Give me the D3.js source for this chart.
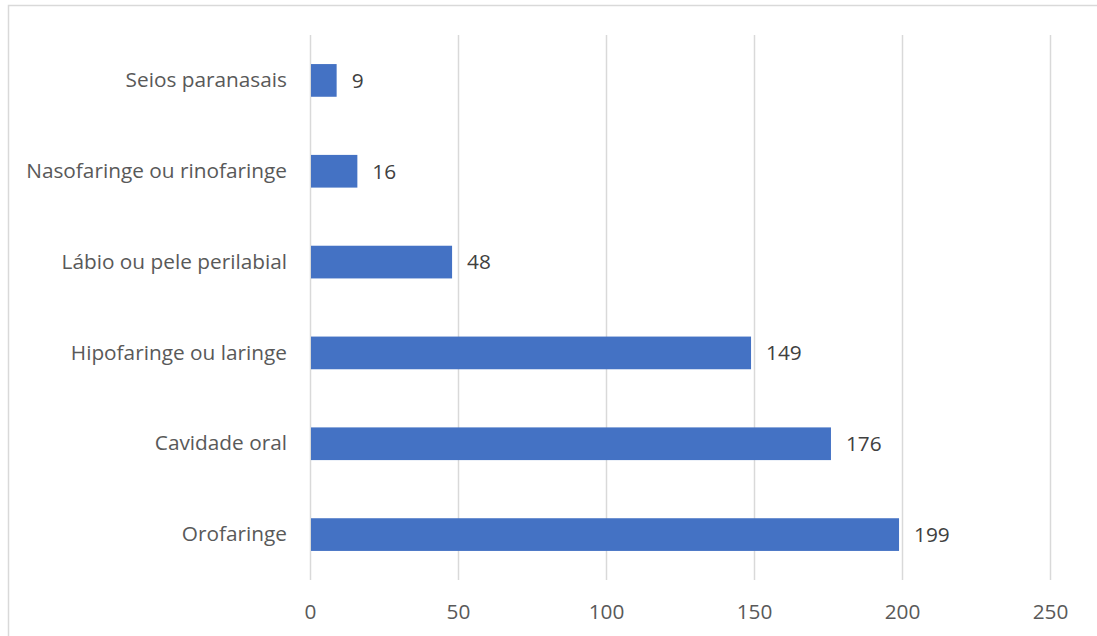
<!DOCTYPE html>
<html>
<head>
<meta charset="utf-8">
<script src="https://cdn.jsdelivr.net/npm/d3@7"></script>
<style>
  html, body { margin: 0; padding: 0; background: #fff; }
  svg { display: block; }
  text { font-family: "Open Sans", Lato, sans-serif; fill: #595959; }
</style>
</head>
<body>
<div id="chart"></div>
<script>
// Tumour sites and case counts (top to bottom)
const categories = [
  "Seios paranasais",
  "Nasofaringe ou rinofaringe",
  "Lábio ou pele perilabial",
  "Hipofaringe ou laringe",
  "Cavidade oral",
  "Orofaringe"
];
const values = [9, 16, 48, 149, 176, 199];
const xTicks = [0, 50, 100, 150, 200, 250];

const W = 1097, H = 636;
const margin = { top: 35, right: 47, bottom: 56, left: 310 };
const FONT = "\"Open Sans\", Lato, sans-serif";
const FS = "20.8px";

const svg = d3.select("#chart").append("svg")
  .attr("width", W).attr("height", H);

// outer chart border
svg.append("rect")
  .attr("x", 8.5).attr("y", 5.5)
  .attr("width", W).attr("height", H)
  .attr("fill", "none").attr("stroke", "#d9d9d9").attr("stroke-width", 1.5);

const x = d3.scaleLinear().domain([0, 250]).range([margin.left, W - margin.right]);
const y = d3.scaleBand().domain(categories)
  .range([margin.top, H - margin.bottom]).paddingInner(0.64).paddingOuter(0.32);

// vertical gridlines
svg.append("g").selectAll("line").data(xTicks).join("line")
  .attr("x1", d => x(d) + 0.5).attr("x2", d => x(d) + 0.5)
  .attr("y1", margin.top).attr("y2", H - margin.bottom)
  .attr("stroke", "#d9d9d9").attr("stroke-width", 1.5);

// x axis tick labels
const xAxis = d3.axisBottom(x).tickValues(xTicks).tickSize(0).tickPadding(0);
const gx = svg.append("g")
  .attr("transform", `translate(0,${H - margin.bottom})`)
  .call(xAxis);
gx.select(".domain").remove();
gx.selectAll("text")
  .attr("y", 32).attr("dy", "0.35em")
  .style("font-size", FS).style("font-family", FONT).attr("fill", "#595959");

// y axis category labels
const yAxis = d3.axisLeft(y).tickSize(0).tickPadding(23);
const gy = svg.append("g")
  .attr("transform", `translate(${margin.left},0)`)
  .call(yAxis);
gy.select(".domain").remove();
gy.selectAll("text")
  .style("font-size", FS).style("font-family", FONT).attr("fill", "#595959");

// bars
const rows = categories.map((c, i) => ({ c, v: values[i] }));
svg.append("g").selectAll("rect").data(rows).join("rect")
  .attr("x", x(0) + 1)
  .attr("y", d => y(d.c))
  .attr("width", d => x(d.v) - x(0) - 1)
  .attr("height", y.bandwidth())
  .attr("fill", "#4472c4");

// value labels
svg.append("g").selectAll("text").data(rows).join("text")
  .attr("x", d => x(d.v) + 15)
  .attr("y", d => y(d.c) + y.bandwidth() / 2)
  .attr("dy", "0.35em")
  .style("font-size", FS)
  .style("fill", "#404040")
  .text(d => d.v);
</script>
</body>
</html>
